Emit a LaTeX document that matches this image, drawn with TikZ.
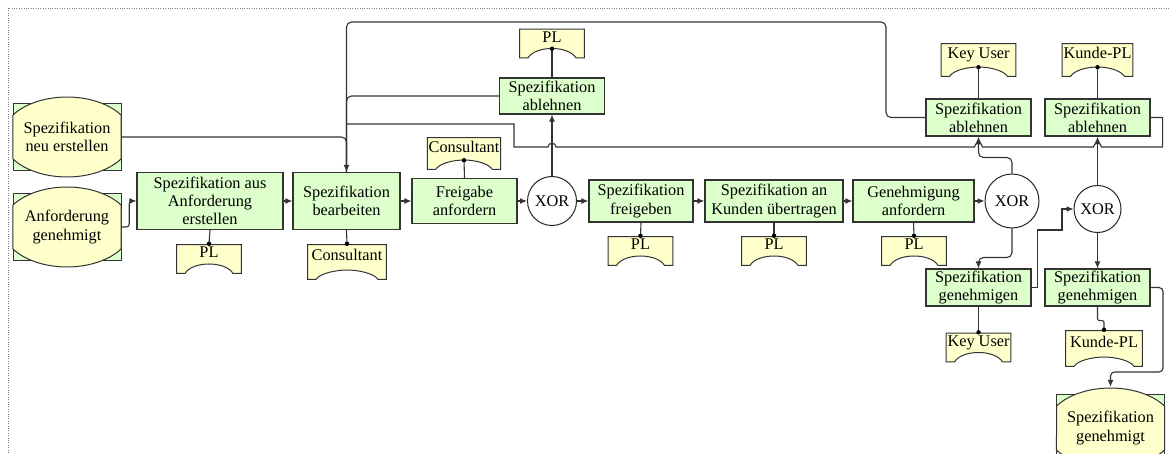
\documentclass[tikz,border=0pt]{standalone}
\usepackage{fontspec}
\setmainfont{Liberation Serif}
\usetikzlibrary{arrows.meta}
\definecolor{fgreen}{RGB}{221,255,204}
\definecolor{eyellow}{RGB}{255,255,204}

\begin{document}
\begin{tikzpicture}[x=1pt,y=-1pt,
    font=\fontsize{16.3}{18.3}\selectfont,
    func/.style={rectangle,draw=black!80,line width=1.2pt,fill=fgreen,align=center,inner sep=0pt},
    xor/.style={circle,draw=black!85,line width=1pt,fill=white,inner sep=0pt},
    event/.style={rectangle,inner sep=0pt,align=center,minimum width=110pt,minimum height=82pt,
      path picture={
        \coordinate (pc) at (path picture bounding box.center);
        \filldraw[fill=fgreen,draw=black!80,line width=1pt]
          ([shift={(-54pt,33.5pt)}]pc) rectangle ([shift={(54pt,-33.5pt)}]pc);
        \filldraw[fill=eyellow,draw=black!80,line width=1pt]
          ([shift={(-54pt,22pt)}]pc)
          arc[start angle=146.6,end angle=33.4,x radius=64.7pt,y radius=40pt]
          -- ([shift={(54pt,-22pt)}]pc)
          arc[start angle=-33.4,end angle=-146.6,x radius=64.7pt,y radius=40pt]
          -- cycle;
      }},
    res/.style={rectangle,inner xsep=2pt,inner ysep=3pt,text height=11pt,text depth=13pt,minimum width=66pt,
      path picture={
        \coordinate (pnw) at (path picture bounding box.north west);
        \coordinate (pne) at (path picture bounding box.north east);
        \coordinate (pse) at (path picture bounding box.south east);
        \coordinate (psw) at (path picture bounding box.south west);
        \coordinate (ps) at (path picture bounding box.south);
        \filldraw[fill=eyellow,draw=black!80,line width=1pt]
          ([shift={(.6pt,-.6pt)}]pnw) -- ([shift={(-.6pt,-.6pt)}]pne)
          -- ([shift={(-.6pt,.6pt)}]pse) -- ([shift={(-9pt,.6pt)}]pse)
          .. controls ([shift={(-13pt,7pt)}]pse) and ([shift={(10pt,10pt)}]ps) .. ([shift={(0pt,10pt)}]ps)
          .. controls ([shift={(-10pt,10pt)}]ps) and ([shift={(13pt,7pt)}]psw) .. ([shift={(9pt,.6pt)}]psw)
          -- ([shift={(.6pt,.6pt)}]psw) -- cycle;
      }},
    flow/.style={draw=black!80,line width=1.1pt,-{Latex[length=7pt,width=6pt]}},
    link/.style={draw=black!80,line width=1.1pt}]
  \useasboundingbox (0,0) rectangle (1169,454);
  \draw[gray,dotted] (8,8) rectangle (1180,470); % frame

  % events
  \node[event] (evneu) at (67,137) {Spezifikation\\neu erstellen};
  \node[event] (evanf) at (67,227) {Anforderung\\genehmigt};
  \node[event] (evgen) at (1110.5,428) {Spezifikation\\genehmigt};

  % main row
  \node[func,minimum width=146pt,minimum height=57pt] (sfaus) at (210,201) {Spezifikation aus\\Anforderung\\erstellen};
  \node[func,minimum width=107pt,minimum height=57pt] (sbearb) at (346.5,201) {Spezifikation\\bearbeiten};
  \node[func,minimum width=105pt,minimum height=45pt] (freiganf) at (464.5,201) {Freigabe\\anfordern};
  \node[xor,minimum size=49pt] (xor1) at (552,201) {XOR};
  \node[func,minimum width=104pt,minimum height=42pt] (sfrei) at (641,201) {Spezifikation\\freigeben};
  \node[func,minimum width=138pt,minimum height=42pt] (skund) at (774,201) {Spezifikation an\\Kunden übertragen};
  \node[func,minimum width=121pt,minimum height=42pt] (genanf) at (913.5,201) {Genehmigung\\anfordern};
  \node[xor,minimum size=54pt] (xor2) at (1012,201) {XOR};
  \node[xor,minimum size=47pt] (xor3) at (1097.5,209) {XOR};

  % reject / approve branches
  \node[func,minimum width=105pt,minimum height=36pt] (sabl1) at (552,96) {Spezifikation\\ablehnen};
  \node[func,minimum width=105pt,minimum height=37pt] (sabl2) at (978.5,117.5) {Spezifikation\\ablehnen};
  \node[func,minimum width=105pt,minimum height=37pt] (sabl3) at (1097.5,117.5) {Spezifikation\\ablehnen};
  \node[func,minimum width=105pt,minimum height=37pt] (sgen1) at (978.5,287.5) {Spezifikation\\genehmigen};
  \node[func,minimum width=105pt,minimum height=37pt] (sgen2) at (1097.5,287.5) {Spezifikation\\genehmigen};

  % roles
  \node[res] (pl1) at (209,259) {PL};
  \node[res,minimum width=80pt,minimum height=36pt] (cons1) at (347,262) {Consultant};
  \node[res,minimum width=74pt,minimum height=33pt] (cons2) at (464,153.5) {Consultant};
  \node[res] (pl2) at (552,43.5) {PL};
  \node[res] (pl3) at (640.5,251) {PL};
  \node[res] (pl4) at (774,251) {PL};
  \node[res] (pl5) at (914,251) {PL};
  \node[res,minimum width=76pt,minimum height=34pt] (key1) at (978.5,60) {Key User};
  \node[res,minimum width=71pt,minimum height=34pt] (kpl1) at (1097.5,60) {Kunde-PL};
  \node[res] (key2) at (978.5,347.5) {Key User};
  \node[res,minimum width=78pt,minimum height=37pt] (kpl2) at (1104,348.5) {Kunde-PL};

  % role links, dot on the role side
  \draw[link] (sfaus.south) -- (pl1.north); \fill (pl1.north) circle[radius=2.2pt];
  \draw[link] (sbearb.south) -- (cons1.north); \fill (cons1.north) circle[radius=2.2pt];
  \draw[link] (freiganf.north) -- ([yshift=10pt]cons2.south); \fill ([yshift=10pt]cons2.south) circle[radius=2.2pt];
  \draw[link] (sabl1.north) -- ([yshift=10pt]pl2.south); \fill ([yshift=10pt]pl2.south) circle[radius=2.2pt];
  \draw[link] (sfrei.south) -- (pl3.north); \fill (pl3.north) circle[radius=2.2pt];
  \draw[link] (skund.south) -- (pl4.north); \fill (pl4.north) circle[radius=2.2pt];
  \draw[link] (genanf.south) -- (pl5.north); \fill (pl5.north) circle[radius=2.2pt];
  \draw[link] (sabl2.north) -- ([yshift=10pt]key1.south); \fill ([yshift=10pt]key1.south) circle[radius=2.2pt];
  \draw[link] (sabl3.north) -- ([yshift=10pt]kpl1.south); \fill ([yshift=10pt]kpl1.south) circle[radius=2.2pt];
  \draw[link] (sgen1.south) -- (key2.north); \fill (key2.north) circle[radius=2.2pt];
  \draw[link,rounded corners=2pt] (sgen2.south) -- ++(0,14) -| (kpl2.north); \fill (kpl2.north) circle[radius=2.2pt];

  % control flow
  \draw[flow,rounded corners=3pt] (evanf.east) -- ++(7,0) |- (sfaus.west);
  \draw[link,rounded corners=5pt] (evneu.east) -| (sbearb.north);
  \draw[flow] (sfaus.east) -- (sbearb.west);
  \draw[flow] (sbearb.east) -- (freiganf.west);
  \draw[flow] (freiganf.east) -- (xor1.west);
  \draw[flow] (xor1.east) -- (sfrei.west);
  \draw[flow] (sfrei.east) -- (skund.west);
  \draw[flow] (skund.east) -- (genanf.west);
  \draw[flow] (genanf.east) -- (xor2.west);
  \draw[flow] (xor1.north) -- (sabl1.south);
  \draw[flow,rounded corners=5pt] (xor2.north) -- ++(0,-16) -| (sabl2.south);
  \draw[flow,rounded corners=5pt] (xor2.south) -- ++(0,29) -| (sgen1.north);
  \draw[flow] (sgen1.east) -- ++(6,0) |- (1062,230) |- (xor3.west);
  \draw[flow] (xor3.north) -- (sabl3.south);
  \draw[flow] (xor3.south) -- (sgen2.north);
  \draw[flow,rounded corners=4pt] (sgen2.east) -| (1163,372) -| (evgen.north);

  % loops back to bearbeiten
  \draw[flow,rounded corners=5pt] (sabl2.west) -| (886,22) -| (sbearb.north);
  \draw[link,rounded corners=5pt] (sabl1.west) -| (sbearb.north);
  \draw[link] (sabl3.east) -- ++(12,0) |- (1101.5,147)
    .. controls (1101.5,142) and (1093.5,142) .. (1093.5,147) % hop
    -- (982.5,147) .. controls (982.5,142) and (974.5,142) .. (974.5,147) % hop
    -- (556,147) .. controls (556,142) and (548,142) .. (548,147) % hop
    -- (514,147) -- (514,124) -- (sbearb.north |- 0,124);
\end{tikzpicture}
\end{document}
